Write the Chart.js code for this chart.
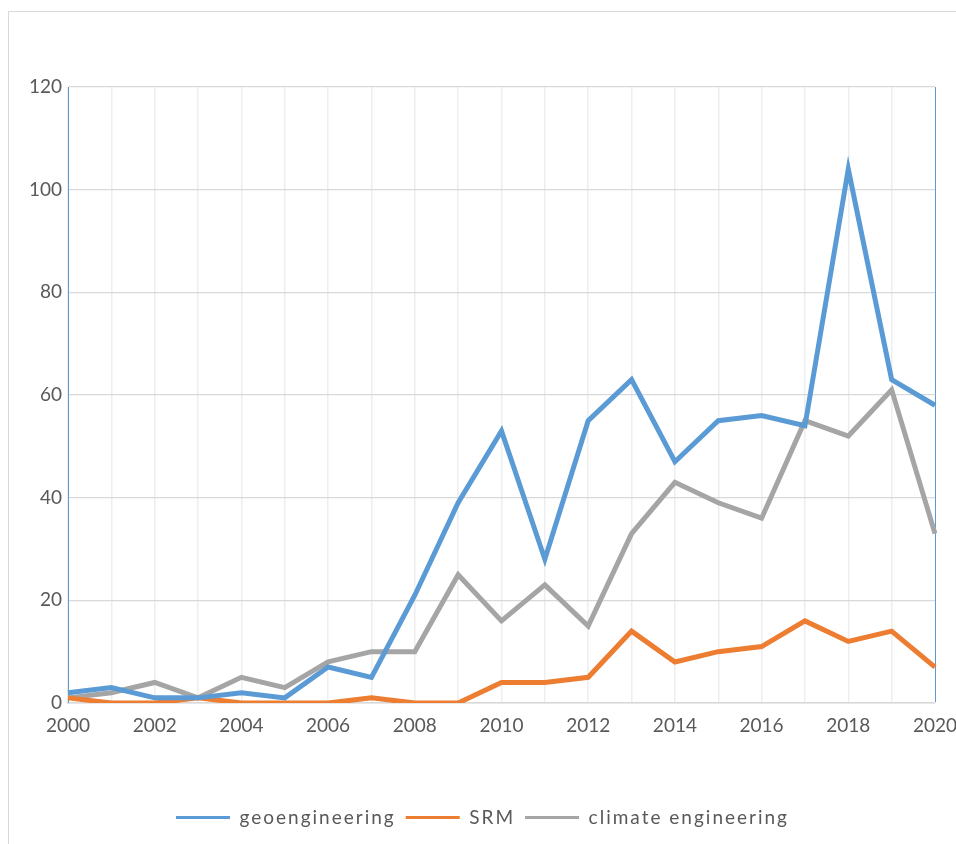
<!DOCTYPE html>
<html>
<head>
<meta charset="utf-8">
<script src="https://cdn.jsdelivr.net/npm/chart.js@4"></script>
<style>
  html, body { margin: 0; padding: 0; background: #fff; }
  #wrap { position: relative; width: 956px; height: 844px; overflow: hidden; }
  #frame { position: absolute; left: 8px; top: 11px; width: 1000px; height: 900px; border: 1px solid #d9d9d9; }
  canvas { position: absolute; left: 0; top: 0; }
</style>
</head>
<body>
<div id="wrap">
  <div id="frame"></div>
  <canvas id="chart" width="956" height="844"></canvas>
</div>
<script>
const years = ["2000","2001","2002","2003","2004","2005","2006","2007","2008","2009","2010",
  "2011","2012","2013","2014","2015","2016","2017","2018","2019","2020"];
const geoengineering = [2,3,1,1,2,1,7,5,21,39,53,28,55,63,47,55,56,54,104,63,58];
const srm = [1,0,0,1,0,0,0,1,0,0,4,4,5,14,8,10,11,16,12,14,7];
const climateEngineering = [1,2,4,1,5,3,8,10,10,25,16,23,15,33,43,39,36,55,52,61,33];
const yTicks = [0, 20, 40, 60, 80, 100, 120];

const FONT = "Lato, 'Open Sans', sans-serif";
const TEXT = "#595959";

// legend text in the reference is letter-spaced and centred on the whole frame
const spacedLegend = {
  id: "spacedLegend",
  beforeUpdate(chart) {
    const lg = chart.legend;
    if (!lg || lg._spaced) return;
    lg._spaced = true;
    ["fit", "draw"].forEach((fn) => {
      const orig = lg[fn];
      lg[fn] = function () {
        const ctx = chart.ctx;
        ctx.save();
        ctx.letterSpacing = "2px";
        if (fn === "draw") ctx.translate(11, 0);
        const r = orig.apply(this, arguments);
        ctx.restore();
        return r;
      };
    });
  }
};

function ds(label, data, color) {
  return {
    label, data,
    borderColor: color,
    backgroundColor: color,
    borderWidth: 5,
    pointRadius: 0,
    tension: 0,
    borderJoinStyle: "miter"
  };
}

new Chart(document.getElementById("chart"), {
  type: "line",
  data: {
    labels: years,
    datasets: [
      ds("geoengineering", geoengineering, "#5B9BD5"),
      ds("SRM", srm, "#ED7D31"),
      ds("climate engineering", climateEngineering, "#A5A5A5")
    ]
  },
  plugins: [spacedLegend],
  options: {
    responsive: false,
    animation: false,
    layout: { padding: { left: 8, right: 21, top: 87, bottom: 7 } },
    plugins: {
      tooltip: { enabled: false },
      legend: {
        position: "bottom",
        labels: {
          color: TEXT,
          font: { family: FONT, size: 19 },
          boxWidth: 54,
          boxHeight: 3,
          padding: 10,
          generateLabels(chart) {
            return chart.data.datasets.map((d, i) => ({
              text: d.label,
              fillStyle: d.borderColor,
              strokeStyle: d.borderColor,
              lineWidth: 0,
              fontColor: TEXT,
              datasetIndex: i,
              hidden: false
            }));
          }
        }
      }
    },
    scales: {
      x: {
        offset: false,
        afterFit(s) {
          s.height = 95;
          s.paddingLeft = 0;
          s.paddingRight = 0;
        },
        grid: {
          drawTicks: false,
          color: (c) => (c.index === years.length - 1 ? "#5B9BD5" : "#eeeeee"),
          lineWidth: (c) => (c.index === years.length - 1 ? 1 : 1.5)
        },
        border: { color: "#d9d9d9", width: 1.5 },
        ticks: {
          autoSkip: false,
          maxRotation: 0,
          padding: 11,
          color: TEXT,
          font: { family: FONT, size: 19 },
          callback: (v, i) => (i % 2 === 0 ? years[i] : "")
        }
      },
      y: {
        min: 0,
        max: 120,
        afterFit(s) {
          s.width = 60;
          s.paddingTop = 0;
          s.paddingBottom = 0;
        },
        afterBuildTicks(s) { s.ticks = yTicks.map((v) => ({ value: v })); },
        grid: { drawTicks: false, color: "#d9d9d9", lineWidth: 1.2 },
        border: { color: "#5B9BD5", width: 1 },
        ticks: {
          padding: 6,
          color: TEXT,
          font: { family: FONT, size: 19 }
        }
      }
    }
  }
});
</script>
</body>
</html>
